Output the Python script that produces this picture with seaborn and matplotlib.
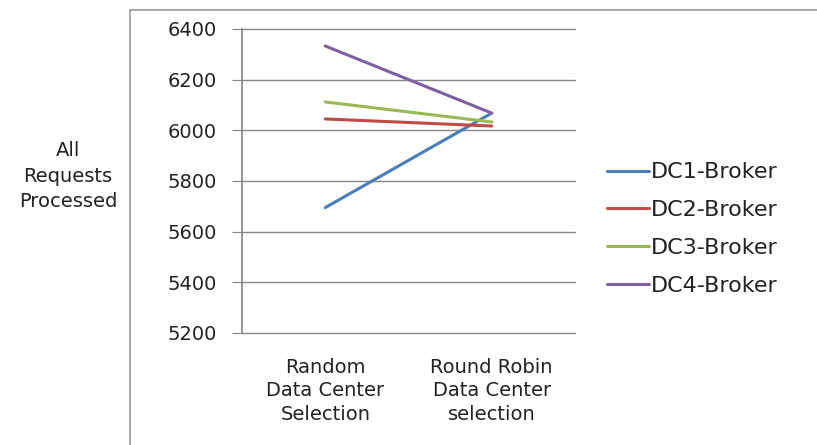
import seaborn as sns
import matplotlib.pyplot as plt
import pandas as pd
from matplotlib.lines import Line2D

methods = ["Random\nData Center\nSelection", "Round Robin\nData Center\nselection"]
brokers = ["DC1-Broker", "DC2-Broker", "DC3-Broker", "DC4-Broker"]
dc1 = [5695, 6068]
dc2 = [6045, 6017]
dc3 = [6112, 6033]
dc4 = [6333, 6068]
colors = ["#4A7EBB", "#BE4B48", "#98B954", "#7D60A0"]

rows = []
for name, vals in zip(brokers, [dc1, dc2, dc3, dc4]):
    for m, v in zip(methods, vals):
        rows.append({"method": m, "broker": name, "requests": v})
df = pd.DataFrame(rows)

sns.set_style("white")
plt.rcParams["font.family"] = ["DejaVu Sans"]

fig = plt.figure(figsize=(8.17, 4.45), dpi=100)
ax = fig.add_axes([242 / 817, 1 - 333 / 445, 333 / 817, 304 / 445])

sns.lineplot(data=df, x="method", y="requests", hue="broker", palette=colors,
             linewidth=2.2, sort=False, ax=ax)

ax.set_xlim(-0.5, 1.5)
ax.set_ylim(5200, 6400)
ax.set_yticks(range(5200, 6401, 200))
ax.set_yticklabels([str(v) for v in range(5200, 6401, 200)], fontsize=14, color="#222222")
ax.set_xticks([0, 1])
ax.set_xticklabels(methods, fontsize=14, color="#222222", linespacing=1.3)
ax.set_xticks([-0.5, 0.5, 1.5], minor=True)
ax.tick_params(axis="x", which="major", length=0, pad=18)
ax.tick_params(axis="x", which="minor", length=7, color="#868686", direction="out")
ax.tick_params(axis="y", length=7, color="#868686", direction="out", pad=11, left=True)
ax.grid(axis="y", color="#868686", linewidth=1.0)
for gl in ax.get_ygridlines():
    gl.set_clip_on(False)
ax.set_axisbelow(True)
for s in ["top", "right", "bottom"]:
    ax.spines[s].set_visible(False)
ax.spines["left"].set_color("#868686")
ax.spines["left"].set_linewidth(1.2)
ax.set_xlabel("")
ax.set_ylabel("")

fig.text(68 / 817, 1 - 176 / 445, "All\nRequests\nProcessed", ha="center", va="center",
         fontsize=14, color="#222222", linespacing=1.45, multialignment="center")

# outer chart frame
fig.add_artist(Line2D([130 / 817, 130 / 817], [0, 1 - 10 / 445], color="#999999", linewidth=1.2))
fig.add_artist(Line2D([130 / 817, 1], [1 - 10 / 445, 1 - 10 / 445], color="#999999", linewidth=1.2))

ax.legend(title=None, frameon=False, fontsize=16, loc="center left",
          bbox_to_anchor=(598 / 817, 1 - 229 / 445), bbox_transform=fig.transFigure,
          handlelength=1.9, handletextpad=0.1, labelspacing=0.8, borderaxespad=0)
for t in ax.get_legend().get_texts():
    t.set_color("#222222")

fig.savefig("out.png", dpi=100)
